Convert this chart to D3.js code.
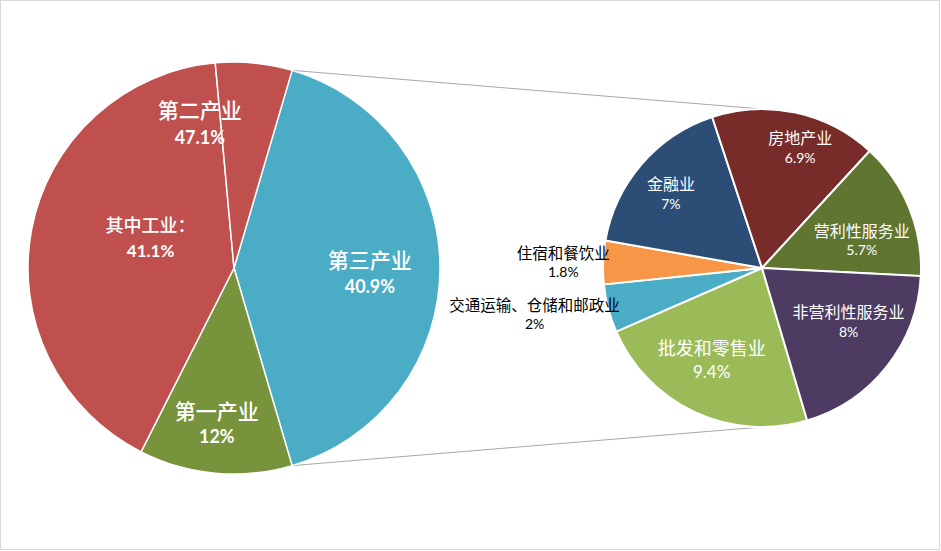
<!DOCTYPE html>
<html>
<head>
<meta charset="utf-8">
<script src="https://cdn.jsdelivr.net/npm/d3@7"></script>
<style>
  body { margin: 0; background: #fff; }
  .cn { font-family: "Noto Sans CJK SC", "Noto Sans", sans-serif; }
  .num { font-family: Lato, "Open Sans", sans-serif; }
</style>
</head>
<body>
<script>
// 三次产业构成（%）
const mainNames = ["第三产业", "第一产业", "其中工业：", "第二产业"];
const mainValues = [40.9, 12, 41.1, 6];
const mainColors = ["#4bacc6", "#77933c", "#c0504d", "#c0504d"];

// 第三产业内部构成（%）
const subNames = ["批发和零售业", "交通运输、仓储和邮政业", "住宿和餐饮业", "金融业",
    "房地产业", "营利性服务业", "非营利性服务业"];
const subValues = [9.4, 2, 1.8, 7, 6.9, 5.7, 8];
const subColors = ["#9bbb59", "#4bacc6", "#f79646", "#2c4d75", "#772c2a", "#5f7530", "#4d3b62"];

// label layout: [angle shift from slice middle (deg), radius share, cn size, num size, line gap]
const mainLabelPos = [[2.2, 0.66, 21, 18, 27], [1.1, 0.76, 21, 18, 26],
    [8.9, 0.43, 18, 17, 25], [-18.9, 0.72, 21, 18, 27]];
const subLabelPos = [[3.7, 0.66, 18, 17, 23], [3.2, 1.46, 15.5, 14, 19], [-0.5, 1.25, 15.5, 14, 19],
    [-1.6, 0.74, 16, 14, 20], [5.5, 0.79, 16, 14, 20], [7.0, 0.65, 16, 14, 19], [-6.5, 0.64, 16, 14, 20]];

const width = 941, height = 551;
const deg = Math.PI / 180;
const fmt = v => (+v.toFixed(1)) + "%";

const svg = d3.select("body")
    .append("svg")
    .attr("width", width)
    .attr("height", height);

svg.append("rect")
    .attr("x", 0.5).attr("y", 0.5)
    .attr("width", width - 2).attr("height", height - 2)
    .attr("fill", "#fff")
    .attr("stroke", "#d9d9d9");

const left = { cx: 234, cy: 268, r: 206 },
    right = { cx: 762, cy: 268, r: 159 };

// the third-sector slice is centred on 3 o'clock
const thirdShare = mainValues[0] / d3.sum(mainValues);
const mainPie = d3.pie().sort(null)
    .startAngle(Math.PI / 2 - thirdShare * Math.PI)
    .endAngle(Math.PI / 2 - thirdShare * Math.PI + 2 * Math.PI);
const subPie = d3.pie().sort(null)
    .startAngle(163.5 * deg)
    .endAngle(163.5 * deg + 2 * Math.PI);

const mainArcs = mainPie(mainValues);
const subArcs = subPie(subValues);

// connector lines
const p1 = d3.pointRadial(mainArcs[0].startAngle, left.r),
    p2 = d3.pointRadial(mainArcs[0].endAngle, left.r);
svg.append("g")
    .selectAll("line")
    .data([[p1, [0, -right.r]], [p2, [0, right.r]]])
    .enter()
    .append("line")
    .attr("x1", d => left.cx + d[0][0])
    .attr("y1", d => left.cy + d[0][1])
    .attr("x2", d => right.cx + d[1][0])
    .attr("y2", d => right.cy + d[1][1])
    .attr("stroke", "#a6a6a6")
    .attr("stroke-width", 1);

function drawPie(arcs, c, colors, stroke) {
    const g = svg.append("g")
        .attr("transform", "translate(" + c.cx + "," + c.cy + ")");
    g.selectAll("path")
        .data(arcs)
        .enter()
        .append("path")
        .attr("d", d3.arc().innerRadius(0).outerRadius(c.r))
        .attr("fill", (d, i) => colors[i])
        .attr("stroke", "#fff")
        .attr("stroke-width", stroke);
    return g;
}

function drawLabels(g, arcs, c, pos, names, texts, o) {
    const lab = g.selectAll("g.lab")
        .data(arcs)
        .enter()
        .append("g")
        .attr("class", "lab")
        .attr("transform", (d, i) => {
            const a = (d.startAngle + d.endAngle) / 2 + pos[i][0] * deg;
            const p = d3.pointRadial(a, pos[i][1] * c.r);
            return "translate(" + p[0] + "," + p[1] + ")";
        });
    lab.append("text")
        .attr("class", "cn")
        .attr("text-anchor", "middle")
        .attr("y", (d, i) => -pos[i][4] / 2)
        .attr("dy", "0.38em")
        .style("font-size", (d, i) => pos[i][2] + "px")
        .style("font-weight", o.cnWeight)
        .style("fill", (d, i) => o.color(i))
        .text((d, i) => names[i]);
    lab.append("text")
        .attr("class", "num")
        .attr("text-anchor", "middle")
        .attr("y", (d, i) => pos[i][4] / 2)
        .attr("dy", "0.36em")
        .style("font-size", (d, i) => pos[i][3] + "px")
        .style("font-weight", o.numWeight)
        .style("fill", (d, i) => o.color(i))
        .text((d, i) => texts[i]);
}

const gl = drawPie(mainArcs, left, mainColors, 1.5);
const mainTexts = mainValues.map((v, i) => i === 3 ? fmt(v + mainValues[2]) : fmt(v));
drawLabels(gl, mainArcs, left, mainLabelPos, mainNames, mainTexts, {
    cnWeight: 500, numWeight: "bold", color: () => "#fff"
});

const gr = drawPie(subArcs, right, subColors, 2);
drawLabels(gr, subArcs, right, subLabelPos, subNames, subValues.map(fmt), {
    cnWeight: "normal", numWeight: "normal",
    color: i => subLabelPos[i][1] > 1 ? "#000" : "#fff"
});
</script>
</body>
</html>
